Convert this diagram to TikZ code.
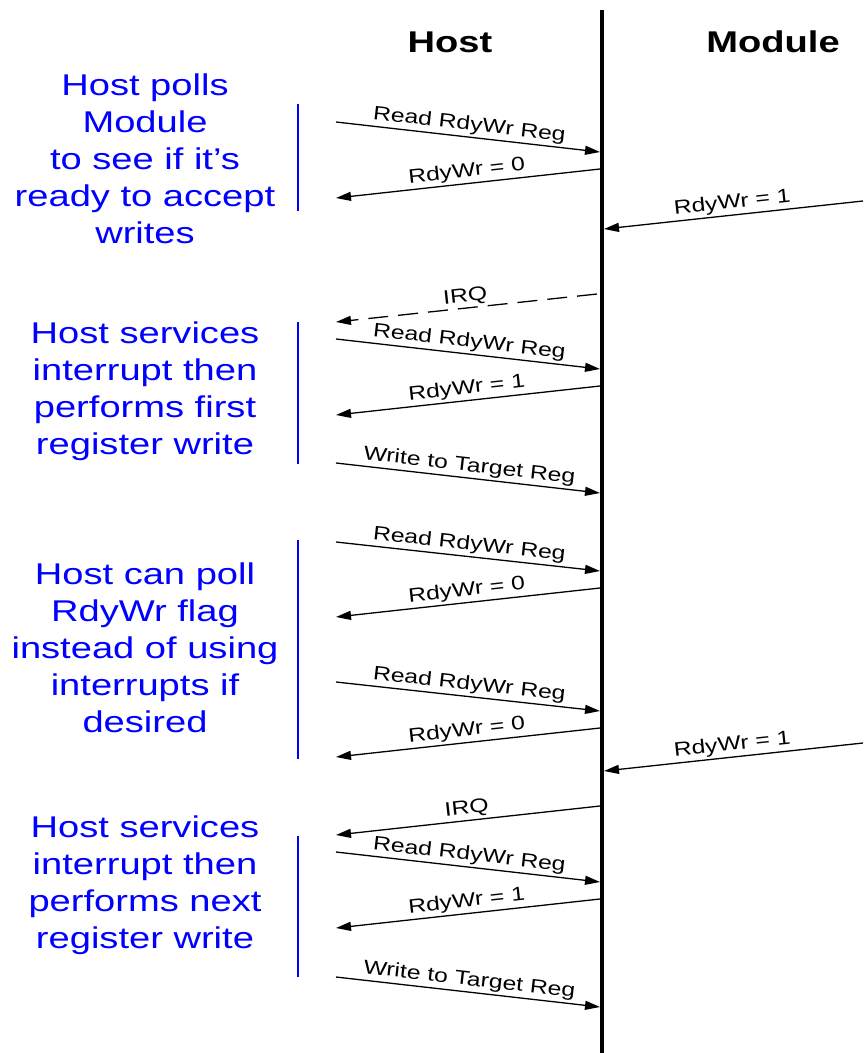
\documentclass[tikz,border=0pt]{standalone}
\usepackage{fontspec}
\setmainfont{Liberation Sans}[FakeStretch=1.27]
\usetikzlibrary{arrows.meta}
\definecolor{noteblue}{RGB}{0,0,255}
\tikzset{
 msg/.style={line width=1.3pt, -{Triangle[length=15pt,width=9pt]}},
 irq/.style={msg, dash pattern=on 20pt off 10pt},
 lbl/.style={sloped, above=1.5pt, inner sep=0.5pt, font=\fontsize{19.5}{22}\selectfont},
 note/.style={text=noteblue, align=center, inner sep=0pt, font=\fontsize{30}{37}\selectfont},
 bar/.style={draw=noteblue, line width=2.5pt},
 head/.style={inner sep=0pt, font=\bfseries\fontsize{30}{36}\selectfont},
 life/.style={line width=4pt},
}
\begin{document}
\begin{tikzpicture}[x=1pt,y=-1pt]
\useasboundingbox (0,0) rectangle (863,1053);
% lifeline
\coordinate (lt) at (602,10);
\coordinate (lb) at (602,1053);
\draw[life] (lt) -- (lb);
% headings
\node[head] (host) at (450,42) {Host};
\node[head] (module) at (773,42) {Module};
% notes
\node[note] (n1) at (145,159) {Host polls\\Module\\to see if it’s\\ready to accept\\writes};
\node[note] (n2) at (145,391) {Host services\\interrupt then\\performs first\\register write};
\node[note] (n3) at (145,648) {Host can poll\\RdyWr flag\\instead of using\\interrupts if\\desired};
\node[note] (n4) at (145,885) {Host services\\interrupt then\\performs next\\register write};
% bars
\coordinate (b1t) at (298,104); \coordinate (b1b) at (298,211);
\coordinate (b2t) at (298,322); \coordinate (b2b) at (298,464);
\coordinate (b3t) at (298,540); \coordinate (b3b) at (298,759);
\coordinate (b4t) at (298,836); \coordinate (b4b) at (298,977);
\draw[bar] (b1t) -- (b1b);
\draw[bar] (b2t) -- (b2b);
\draw[bar] (b3t) -- (b3b);
\draw[bar] (b4t) -- (b4b);
% message end points
\coordinate (a1s) at (336,122); \coordinate (a1e) at (600,152);
\coordinate (a2s) at (600,169); \coordinate (a2e) at (336,198);
\coordinate (a3s) at (863,201); \coordinate (a3e) at (604,229);
\coordinate (a4s) at (597,294); \coordinate (a4e) at (336,322);
\coordinate (a5s) at (336,339); \coordinate (a5e) at (600,369);
\coordinate (a6s) at (600,386); \coordinate (a6e) at (336,415);
\coordinate (a7s) at (336,463); \coordinate (a7e) at (600,493);
\coordinate (a8s) at (336,542); \coordinate (a8e) at (600,571);
\coordinate (a9s) at (600,588); \coordinate (a9e) at (336,617);
\coordinate (a10s) at (336,682); \coordinate (a10e) at (600,711);
\coordinate (a11s) at (600,728); \coordinate (a11e) at (336,757);
\coordinate (a12s) at (863,743); \coordinate (a12e) at (604,771);
\coordinate (a13s) at (600,806); \coordinate (a13e) at (336,835);
\coordinate (a14s) at (336,852); \coordinate (a14e) at (600,882);
\coordinate (a15s) at (600,899); \coordinate (a15e) at (336,928);
\coordinate (a16s) at (336,977); \coordinate (a16e) at (600,1007);
% messages
\draw[msg] (a1s) -- node[lbl] {Read RdyWr Reg} (a1e);
\draw[msg] (a2s) -- node[lbl] {RdyWr = 0} (a2e);
\draw[msg] (a3s) -- node[lbl] {RdyWr = 1} (a3e);
\draw[irq] (a4s) -- node[lbl] {IRQ} (a4e);
\draw[msg] (a5s) -- node[lbl] {Read RdyWr Reg} (a5e);
\draw[msg] (a6s) -- node[lbl] {RdyWr = 1} (a6e);
\draw[msg] (a7s) -- node[lbl] {Write to Target Reg} (a7e);
\draw[msg] (a8s) -- node[lbl] {Read RdyWr Reg} (a8e);
\draw[msg] (a9s) -- node[lbl] {RdyWr = 0} (a9e);
\draw[msg] (a10s) -- node[lbl] {Read RdyWr Reg} (a10e);
\draw[msg] (a11s) -- node[lbl] {RdyWr = 0} (a11e);
\draw[msg] (a12s) -- node[lbl] {RdyWr = 1} (a12e);
\draw[msg] (a13s) -- node[lbl] {IRQ} (a13e);
\draw[msg] (a14s) -- node[lbl] {Read RdyWr Reg} (a14e);
\draw[msg] (a15s) -- node[lbl] {RdyWr = 1} (a15e);
\draw[msg] (a16s) -- node[lbl] {Write to Target Reg} (a16e);
\end{tikzpicture}
\end{document}
